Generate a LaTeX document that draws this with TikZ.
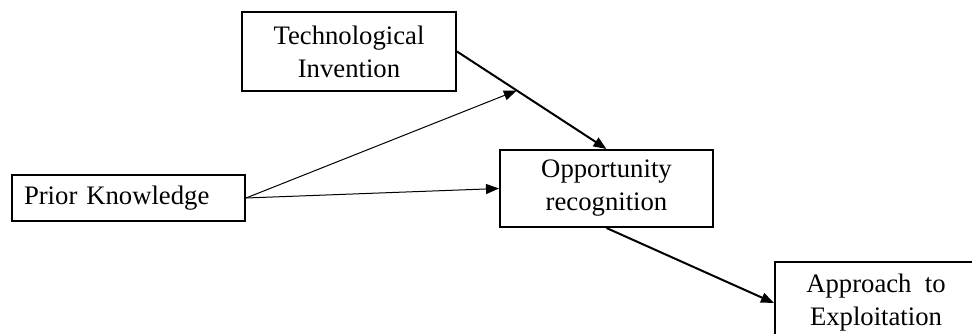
\documentclass[tikz,border=0pt]{standalone}
\usepackage{fontspec}
\setmainfont{Liberation Serif}
\usetikzlibrary{arrows.meta}
\begin{document}
\begin{tikzpicture}[x=1pt,y=-1pt,
  box/.style={draw,line width=2pt,inner sep=0pt,align=center,
    font=\fontsize{26.7}{33}\selectfont},
  strong/.style={line width=2pt,-{Triangle[length=13pt,width=10pt]}},
  weak/.style={line width=1pt,-{Triangle[length=13pt,width=10pt]}}]
  \useasboundingbox (0,0) rectangle (972,334);
  \node[box,minimum width=214pt,minimum height=79pt] (ti) at (349,51.5)
    {Technological\\Invention};
  \node[box,minimum width=213pt,minimum height=77pt] (or) at (606.5,188.5)
    {Opportunity\\recognition};
  \node[box,text width=209pt,inner xsep=12pt,align=left,minimum height=46pt]
    (pk) at (128.5,198) {Prior Knowledge};
  \node[box,minimum width=202pt,minimum height=82pt] (ae) at (876,303)
    {Approach\ \ to\\Exploitation};
  \draw[strong] (ti.east) -- coordinate[pos=0.4] (mid) (or.north);
  \draw[weak] (pk.east) -- (mid);
  \draw[weak] (pk.east) -- (or.west);
  \draw[strong] (or.south) -- (ae.west);
\end{tikzpicture}
\end{document}
